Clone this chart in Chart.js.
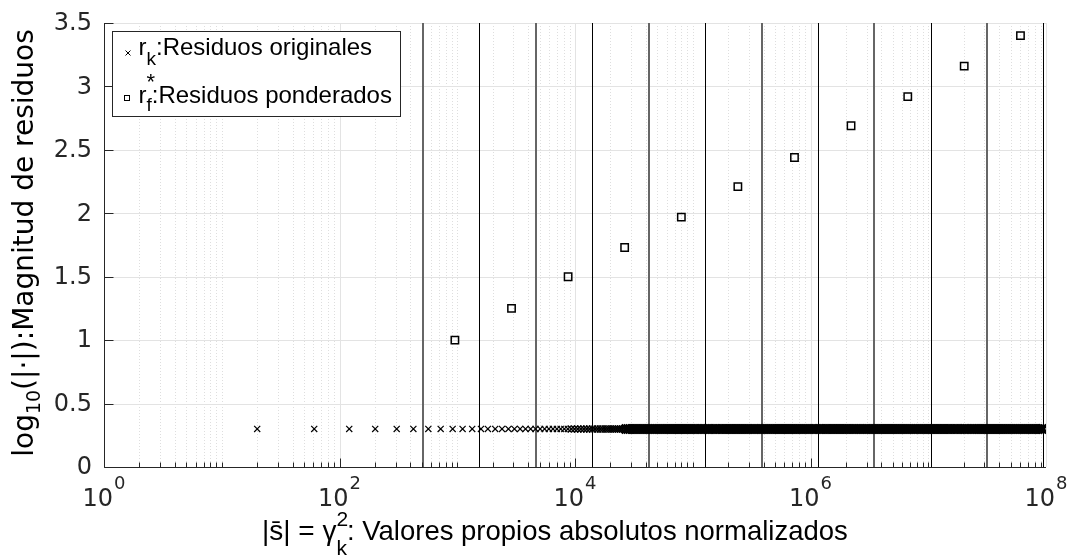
<!DOCTYPE html>
<html>
<head>
<meta charset="utf-8">
<script src="https://cdn.jsdelivr.net/npm/chart.js@4.4.1/dist/chart.umd.min.js"></script>
<style>
  html, body { margin: 0; padding: 0; background: #fff; }
  #wrap { width: 1073px; height: 557px; }
</style>
</head>
<body>
<div id="wrap"><canvas id="chart" width="1073" height="557"></canvas></div>
<script>
/* ---- datos ---- */
// r_k: residuos originales (y constante), x en valores propios normalizados
var origY = 0.3;
var origXSparse = [20, 61, 121, 201, 306, 424, 568, 723, 914, 1110, 1340, 1590, 1820, 2100, 2400,
    2720, 3060, 3420, 3800, 4200, 4620, 5060, 5520, 6000, 6500, 7020, 7560, 8120, 8700, 9300,
    9920, 10560, 11220, 11900, 12600, 13320, 14060, 14820, 15600, 16400, 17220, 18060, 18920,
    19800, 20700, 21620, 22560, 23520, 24500, 25500];
var origXDec4 = [2.71e4, 2.82e4, 2.93e4, 3.04e4, 3.16e4, 3.29e4, 3.41e4, 3.55e4, 3.69e4, 3.83e4,
    3.98e4, 4.14e4, 4.3e4, 4.47e4, 4.64e4, 4.82e4, 5.01e4, 5.21e4, 5.41e4, 5.62e4, 5.84e4, 6.07e4,
    6.31e4, 6.56e4, 6.81e4, 7.08e4, 7.36e4, 7.64e4, 7.94e4, 8.25e4, 8.58e4, 8.91e4, 9.26e4, 9.62e4];
var origXDec5 = [1e5, 1.04e5, 1.08e5, 1.12e5, 1.17e5, 1.21e5, 1.26e5, 1.31e5, 1.36e5, 1.41e5,
    1.47e5, 1.53e5, 1.58e5, 1.65e5, 1.71e5, 1.78e5, 1.85e5, 1.92e5, 2e5, 2.07e5, 2.15e5, 2.24e5,
    2.33e5, 2.42e5, 2.51e5, 2.61e5, 2.71e5, 2.82e5, 2.93e5, 3.04e5, 3.16e5, 3.29e5, 3.41e5, 3.55e5,
    3.69e5, 3.83e5, 3.98e5, 4.14e5, 4.3e5, 4.47e5, 4.64e5, 4.82e5, 5.01e5, 5.21e5, 5.41e5, 5.62e5,
    5.84e5, 6.07e5, 6.31e5, 6.56e5, 6.81e5, 7.08e5, 7.36e5, 7.64e5, 7.94e5, 8.25e5, 8.58e5, 8.91e5,
    9.26e5, 9.62e5];
var origXDec6 = [1e6, 1.04e6, 1.08e6, 1.12e6, 1.17e6, 1.21e6, 1.26e6, 1.31e6, 1.36e6, 1.41e6,
    1.47e6, 1.53e6, 1.58e6, 1.65e6, 1.71e6, 1.78e6, 1.85e6, 1.92e6, 2e6, 2.07e6, 2.15e6, 2.24e6,
    2.33e6, 2.42e6, 2.51e6, 2.61e6, 2.71e6, 2.82e6, 2.93e6, 3.04e6, 3.16e6, 3.29e6, 3.41e6, 3.55e6,
    3.69e6, 3.83e6, 3.98e6, 4.14e6, 4.3e6, 4.47e6, 4.64e6, 4.82e6, 5.01e6, 5.21e6, 5.41e6, 5.62e6,
    5.84e6, 6.07e6, 6.31e6, 6.56e6, 6.81e6, 7.08e6, 7.36e6, 7.64e6, 7.94e6, 8.25e6, 8.58e6, 8.91e6,
    9.26e6, 9.62e6];
var origXDec7 = [1e7, 1.04e7, 1.08e7, 1.12e7, 1.17e7, 1.21e7, 1.26e7, 1.31e7, 1.36e7, 1.41e7,
    1.47e7, 1.53e7, 1.58e7, 1.65e7, 1.71e7, 1.78e7, 1.85e7, 1.92e7, 2e7, 2.07e7, 2.15e7, 2.24e7,
    2.33e7, 2.42e7, 2.51e7, 2.61e7, 2.71e7, 2.82e7, 2.93e7, 3.04e7, 3.16e7, 3.29e7, 3.41e7, 3.55e7,
    3.69e7, 3.83e7, 3.98e7, 4.14e7, 4.3e7, 4.47e7, 4.64e7, 4.82e7, 5.01e7, 5.21e7, 5.41e7, 5.62e7,
    5.84e7, 6.07e7, 6.31e7, 6.56e7, 6.81e7, 7.08e7, 7.36e7, 7.64e7, 7.94e7, 8.25e7, 8.58e7, 8.91e7,
    9.26e7, 9.49e7];

// r_f*: residuos ponderados
var pondX = [955, 2890, 8740, 26400, 80000, 241600, 731000, 2.21e6, 6.70e6, 2.02e7, 6.07e7];
var pondY = [1.00, 1.25, 1.50, 1.73, 1.97, 2.21, 2.44, 2.69, 2.92, 3.16, 3.40];

// lineas verticales (limites)
var vlineX = [509, 1540, 4640, 14030, 42500, 127000, 385000, 1.151e6, 3.48e6, 1.049e7, 3.173e7, 9.49e7];

// ejes
var xMajorExp = [0, 2, 4, 6, 8];
var xMinorMant = [2, 3, 4, 5, 6, 7, 8, 9];
var yTicks = [0, 0.5, 1, 1.5, 2, 2.5, 3, 3.5];
var yTickLabels = ['0', '0.5', '1', '1.5', '2', '2.5', '3', '3.5'];

var AX = '#262626';
var TICK_FONT = '24px "DejaVu Sans"';
var TICK_EXP_FONT = '18px "DejaVu Sans"';

var origX = origXSparse.concat(origXDec4, origXDec5, origXDec6, origXDec7);
var origPts = origX.map(function(v) { return { x: v, y: origY }; });
var pondPts = pondX.map(function(v, i) { return { x: v, y: pondY[i] }; });

// texto con sub/superindices: partes {t, f, dy, stay}
function drawRuns(ctx, parts, x, y) {
    parts.forEach(function(p) {
        ctx.font = p.f;
        ctx.fillText(p.t, x, y + (p.dy || 0));
        if (!p.stay) x += ctx.measureText(p.t).width;
    });
    return x;
}
function runsWidth(ctx, parts) {
    var w = 0;
    parts.forEach(function(p) {
        ctx.font = p.f;
        if (!p.stay) w += ctx.measureText(p.t).width;
    });
    return w;
}

// tamano de la cruz segun lo apretado de la nube
function crossRadius(c) {
    var x = c.raw ? c.raw.x : 0;
    return x > 2.6e4 ? 6.2 : (x > 9e3 ? 5 : 4.3);
}
function crossWidth(c) {
    var x = c.raw ? c.raw.x : 0;
    return x > 2.6e4 ? 2.6 : (x > 9e3 ? 1.5 : 1.2);
}

var framePlugin = {
    id: 'frame',
    beforeDatasetsDraw: function(chart) {
        var ctx = chart.ctx, a = chart.chartArea;
        var xs = chart.scales.x, ys = chart.scales.y;
        ctx.save();
        ctx.lineWidth = 1;

        // rejilla menor (punteada)
        ctx.strokeStyle = '#dedede';
        ctx.setLineDash([1, 2]);
        for (var e = 0; e < 8; e++) {
            var mants = (e % 2 === 1) ? [1].concat(xMinorMant) : xMinorMant;
            mants.forEach(function(m) {
                var px = Math.round(xs.getPixelForValue(m * Math.pow(10, e))) + 0.5;
                ctx.beginPath(); ctx.moveTo(px, a.top); ctx.lineTo(px, a.bottom); ctx.stroke();
            });
        }
        ctx.setLineDash([]);

        // rejilla mayor
        ctx.strokeStyle = '#e3e3e3';
        xMajorExp.forEach(function(e) {
            var px = Math.round(xs.getPixelForValue(Math.pow(10, e))) + 0.5;
            ctx.beginPath(); ctx.moveTo(px, a.top); ctx.lineTo(px, a.bottom); ctx.stroke();
        });
        yTicks.forEach(function(v) {
            var py = Math.round(ys.getPixelForValue(v)) + 0.5;
            ctx.beginPath(); ctx.moveTo(a.left, py); ctx.lineTo(a.right, py); ctx.stroke();
        });

        // lineas verticales
        vlineX.forEach(function(v, i) {
            var px = xs.getPixelForValue(v);
            if (i % 2 === 0) {
                ctx.strokeStyle = '#666'; ctx.lineWidth = 2; px = Math.round(px);
            } else {
                ctx.strokeStyle = '#000'; ctx.lineWidth = 1; px = Math.round(px) + 0.5;
            }
            ctx.beginPath(); ctx.moveTo(px, a.top); ctx.lineTo(px, a.bottom); ctx.stroke();
        });
        ctx.restore();
    },
    afterDatasetsDraw: function(chart) {
        var ctx = chart.ctx, a = chart.chartArea;
        var xs = chart.scales.x, ys = chart.scales.y;
        ctx.save();
        ctx.strokeStyle = AX;
        ctx.fillStyle = AX;
        ctx.lineWidth = 1;

        // ejes
        var L = Math.round(a.left) + 0.5, B = Math.round(a.bottom) + 0.5;
        ctx.beginPath();
        ctx.moveTo(L, a.top); ctx.lineTo(L, B); ctx.lineTo(a.right, B);
        ctx.stroke();

        // marcas eje x
        for (var e = 0; e < 8; e++) {
            [1].concat(xMinorMant).forEach(function(m) {
                var major = (m === 1 && e % 2 === 0);
                var px = Math.round(xs.getPixelForValue(m * Math.pow(10, e))) + 0.5;
                ctx.beginPath(); ctx.moveTo(px, B); ctx.lineTo(px, B - (major ? 9 : 5)); ctx.stroke();
            });
        }
        // marcas eje y
        yTicks.forEach(function(v) {
            var py = Math.round(ys.getPixelForValue(v)) + 0.5;
            ctx.beginPath(); ctx.moveTo(L, py); ctx.lineTo(L + 9, py); ctx.stroke();
        });

        // etiquetas eje y
        ctx.textAlign = 'right';
        ctx.textBaseline = 'middle';
        ctx.font = TICK_FONT;
        yTicks.forEach(function(v, i) {
            ctx.fillText(yTickLabels[i], 92, ys.getPixelForValue(v) + 1);
        });

        // etiquetas eje x: 10^n
        ctx.textAlign = 'left';
        ctx.textBaseline = 'alphabetic';
        xMajorExp.forEach(function(e) {
            var px = xs.getPixelForValue(Math.pow(10, e));
            var parts = [{ t: '10', f: TICK_FONT }, { t: ' ', f: '4px sans-serif' }, { t: String(e), f: TICK_EXP_FONT, dy: -17 }];
            var w = runsWidth(ctx, parts);
            drawRuns(ctx, parts, px - w / 2, 506);
        });

        // titulo eje x
        ctx.fillStyle = '#000';
        var xl = [
            { t: '|s\u0304| = \u03B3', f: '28px "Liberation Sans"' },
            { t: '2', f: '21px "Liberation Sans"', dy: -14, stay: true },
            { t: 'k', f: '21px "Liberation Sans"', dy: 15 },
            { t: ': Valores propios absolutos normalizados', f: '27.5px "Liberation Sans"' }
        ];
        drawRuns(ctx, xl, 262, 540);

        // titulo eje y
        var yl = [
            { t: 'log', f: '28px "DejaVu Sans"' },
            { t: '10', f: '19px "DejaVu Sans"', dy: 7 },
            { t: '(|\u00B7|):Magnitud de residuos', f: '28px "DejaVu Sans"' }
        ];
        var yw = runsWidth(ctx, yl);
        ctx.save();
        ctx.translate(33, (a.top + a.bottom) / 2 - 2);
        ctx.rotate(-Math.PI / 2);
        drawRuns(ctx, yl, -yw / 2, 0);
        ctx.restore();

        // leyenda
        ctx.fillStyle = '#fff';
        ctx.fillRect(112, 31, 288, 85);
        ctx.strokeStyle = AX;
        ctx.strokeRect(112.5, 31.5, 288, 85);
        ctx.strokeStyle = '#000';
        ctx.beginPath();
        ctx.moveTo(125.5, 50.5); ctx.lineTo(130.5, 55.5);
        ctx.moveTo(130.5, 50.5); ctx.lineTo(125.5, 55.5);
        ctx.stroke();
        ctx.strokeRect(124.5, 95.5, 5, 5);
        ctx.fillStyle = '#000';
        var LF = '24px "Liberation Sans"', SF = '19px "Liberation Sans"';
        drawRuns(ctx, [
            { t: 'r', f: LF }, { t: 'k', f: SF, dy: 10 }, { t: ':Residuos originales', f: LF }
        ], 138.5, 55);
        drawRuns(ctx, [
            { t: 'r', f: LF }, { t: '*', f: '22px "Liberation Sans"', dy: -14, stay: true }, { t: 'f', f: SF, dy: 8 },
            { t: ':Residuos ponderados', f: LF }
        ], 138.5, 103);
        ctx.restore();
    }
};

new Chart(document.getElementById('chart'), {
    type: 'scatter',
    data: {
        datasets: [
            {
                label: 'r_k:Residuos originales',
                data: origPts,
                pointStyle: 'crossRot',
                pointRadius: crossRadius,
                borderWidth: crossWidth,
                borderColor: '#000',
                showLine: false
            },
            {
                label: 'r_f*:Residuos ponderados',
                data: pondPts,
                pointStyle: 'rect',
                pointRadius: 5.2,
                borderColor: '#000',
                backgroundColor: 'rgba(0,0,0,0)',
                borderWidth: 1.5,
                showLine: false
            }
        ]
    },
    options: {
        responsive: false,
        animation: false,
        events: [],
        layout: { padding: { left: 104, right: 27, top: 23, bottom: 90 } },
        plugins: { legend: { display: false }, tooltip: { enabled: false } },
        scales: {
            x: { type: 'logarithmic', min: 1, max: 1e8, display: false },
            y: { type: 'linear', min: 0, max: 3.5, display: false }
        }
    },
    plugins: [framePlugin]
});
</script>
</body>
</html>
